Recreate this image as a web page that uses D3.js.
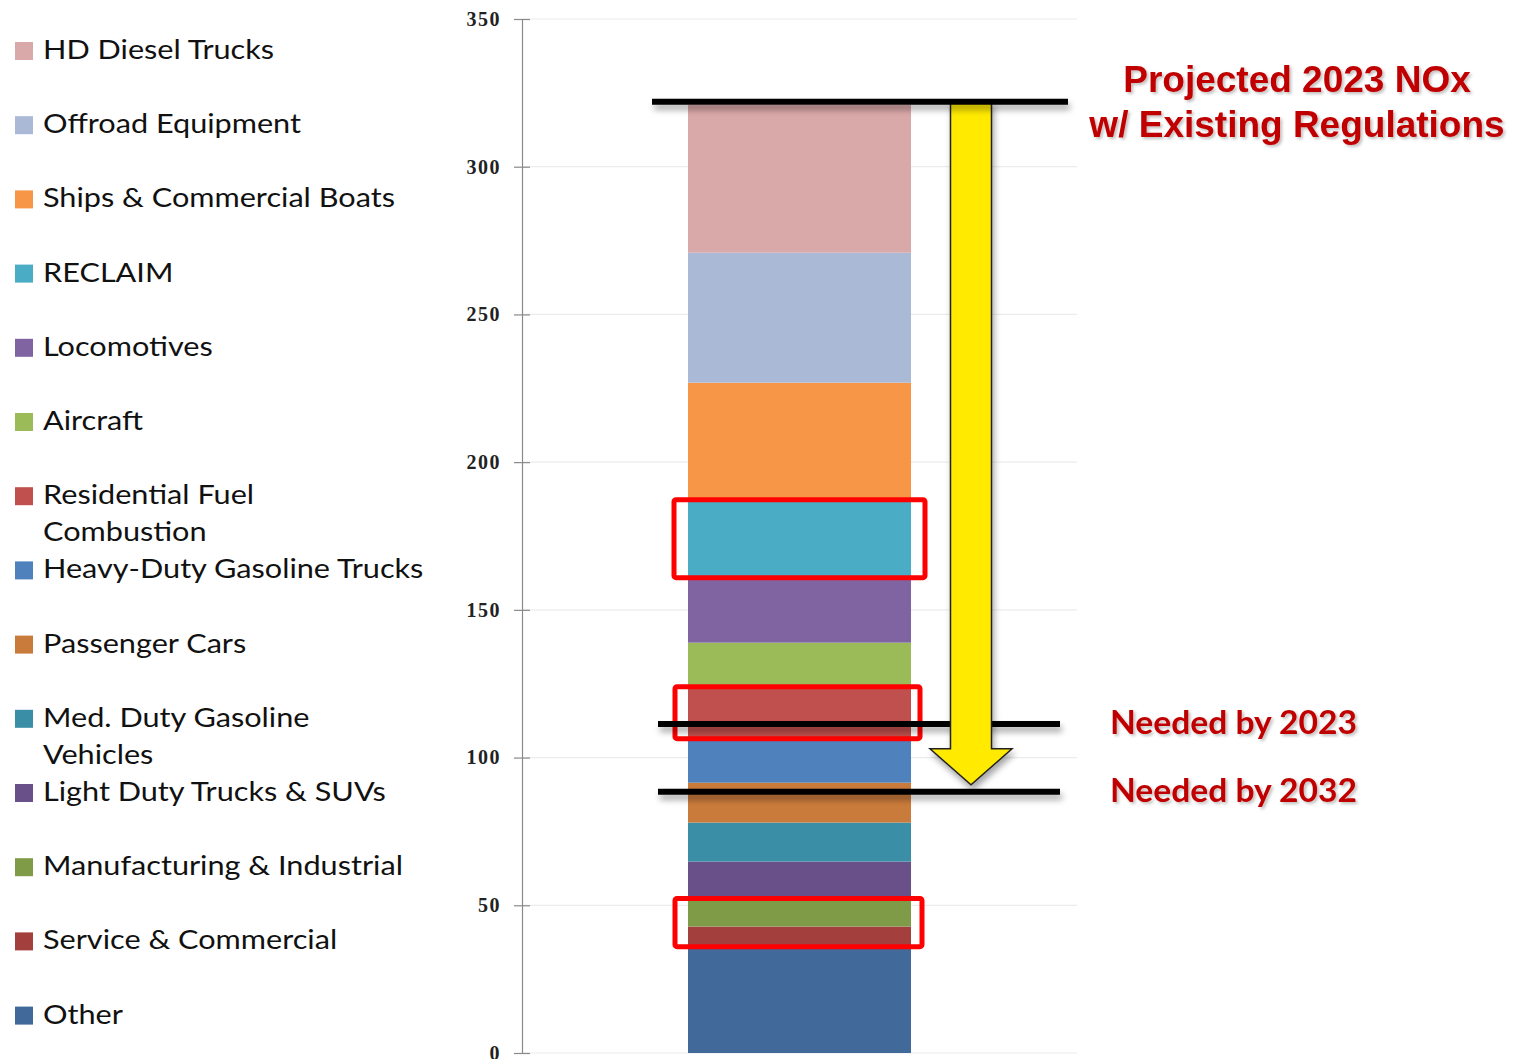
<!DOCTYPE html>
<html>
<head>
<meta charset="utf-8">
<script src="https://cdnjs.cloudflare.com/ajax/libs/d3/7.8.5/d3.min.js"></script>
<style>
  body { margin: 0; background: #ffffff; }
  svg { display: block; }
</style>
</head>
<body>
<script>
//Stacked NOx inventory bar for 2023 with reduction targets

//Declares Global variables
var W = 1523;
var H = 1059;

//Categories, bottom of the stack first
var categories = ["Other", "Service & Commercial", "Manufacturing & Industrial",
  "Light Duty Trucks & SUVs", "Med. Duty Gasoline Vehicles", "Passenger Cars",
  "Heavy-Duty Gasoline Trucks", "Residential Fuel Combustion", "Aircraft",
  "Locomotives", "RECLAIM", "Ships & Commercial Boats", "Offroad Equipment",
  "HD Diesel Trucks"];
var values = [36, 6.8, 9.5, 12.5, 13.2, 13.5, 14.9, 17.6, 14.9, 22, 26.4, 39.6, 44, 50.1];
var colors = ["#41699a", "#a3403d", "#809b48", "#6a5088", "#3a8fa6", "#c97b3b",
  "#4f81bd", "#c0504d", "#9bbb59", "#8064a2", "#4bacc6", "#f79646", "#aab9d6",
  "#d9a8a8"];

//Legend order and wrapped labels (top to bottom)
var legendLabels = [["HD Diesel Trucks"], ["Offroad Equipment"], ["Ships & Commercial Boats"],
  ["RECLAIM"], ["Locomotives"], ["Aircraft"], ["Residential Fuel", "Combustion"],
  ["Heavy-Duty Gasoline Trucks"], ["Passenger Cars"], ["Med. Duty Gasoline", "Vehicles"],
  ["Light Duty Trucks & SUVs"], ["Manufacturing & Industrial"], ["Service & Commercial"],
  ["Other"]];

var yTicks = [0, 50, 100, 150, 200, 250, 300, 350];
var barLabel = ["2023"];
var needed2023 = 111.4;
var needed2032 = 88.4;
var highlighted = [["RECLAIM"], ["Residential Fuel Combustion"],
  ["Manufacturing & Industrial", "Service & Commercial"]];

function main() {
  var svg = d3.select("body").append("svg")
    .attr("width", W)
    .attr("height", H);
  makeFilters(svg);

  var yScale = d3.scaleLinear().domain([0, 350]).range([1053, 19]);
  var xScale = d3.scaleBand().domain(barLabel).range([522, 1077])
    .paddingInner(0.4267).paddingOuter(0.4267);

  //Builds one row table for the stack
  var row = { name: barLabel[0] };
  categories.forEach(function(c, i) { row[c] = values[i]; });
  var series = d3.stack().keys(categories)([row]);

  drawGrid(svg, yScale);
  drawBars(svg, series, xScale, yScale);
  drawAxis(svg, yScale);
  drawBoxes(svg, series, xScale, yScale);
  drawTargets(svg, series, xScale, yScale);
  drawLegend(svg);
}

function makeFilters(svg) {
  //Soft shadows used under lines, arrow and red text
  var defs = svg.append("defs");
  defs.append("filter").attr("id", "shadow")
    .attr("filterUnits", "userSpaceOnUse")
    .attr("x", 0).attr("y", 0).attr("width", W).attr("height", H)
    .append("feDropShadow")
    .attr("dx", 2).attr("dy", 5).attr("stdDeviation", 3)
    .attr("flood-color", "#000").attr("flood-opacity", 0.35);
  defs.append("filter").attr("id", "tshadow")
    .append("feDropShadow")
    .attr("dx", 2).attr("dy", 2).attr("stdDeviation", 1.5)
    .attr("flood-color", "#000").attr("flood-opacity", 0.25);
}

function drawGrid(svg, yScale) {
  //Very faint horizontal gridlines
  svg.append("g").selectAll("line")
    .data(yTicks)
    .enter().append("line")
    .attr("x1", 522).attr("x2", 1077)
    .attr("y1", function(d) { return yScale(d); })
    .attr("y2", function(d) { return yScale(d); })
    .attr("stroke", "#ececec")
    .attr("stroke-width", 1.2);
}

function drawAxis(svg, yScale) {
  var axis = d3.axisLeft(yScale).tickValues(yTicks).tickSize(8).tickPadding(13);
  var g = svg.append("g")
    .attr("transform", "translate(522,0)")
    .call(axis);
  g.select(".domain").attr("stroke", "#8a8a8a").attr("stroke-width", 1.2);
  g.selectAll(".tick line").attr("x1", 8).attr("stroke", "#8a8a8a").attr("stroke-width", 1.2);
  g.selectAll(".tick text")
    .attr("font-family", "'Liberation Serif', serif")
    .attr("font-size", 20)
    .attr("font-weight", "bold")
    .attr("letter-spacing", 1.5)
    .attr("fill", "#222");
}

function drawBars(svg, series, xScale, yScale) {
  //One rect per stacked category
  svg.append("g").selectAll("rect")
    .data(series)
    .enter().append("rect")
    .attr("x", xScale(barLabel[0]))
    .attr("width", xScale.bandwidth())
    .attr("y", function(d) { return yScale(d[0][1]); })
    .attr("height", function(d) { return yScale(d[0][0]) - yScale(d[0][1]); })
    .attr("fill", function(d, i) { return colors[i]; });
}

function drawTargets(svg, series, xScale, yScale) {
  var total = series[series.length - 1][0][1];
  var yTop = yScale(total) - 3;

  //Target lines sit under the arrow
  svg.append("g").selectAll("line")
    .data([needed2023, needed2032])
    .enter().append("line")
    .attr("x1", 658).attr("x2", 1060)
    .attr("y1", function(d) { return yScale(d); })
    .attr("y2", function(d) { return yScale(d); })
    .attr("stroke", "#000")
    .attr("stroke-width", 6)
    .attr("filter", "url(#shadow)");

  //Yellow arrow from the projection down to the 2032 target
  var cx = 971, sw = 20.5, hw = 41;
  var yNeck = yScale(needed2032) - 43;
  var yTip = yScale(needed2032) - 7;
  var pts = [[cx - sw, yTop], [cx + sw, yTop], [cx + sw, yNeck], [cx + hw, yNeck],
    [cx, yTip], [cx - hw, yNeck], [cx - sw, yNeck]];
  svg.append("path")
    .attr("d", d3.line()(pts) + "Z")
    .attr("fill", "#ffea00")
    .attr("stroke", "#222")
    .attr("stroke-width", 1.5)
    .attr("filter", "url(#shadow)");

  //Projected total line on top
  svg.append("line")
    .attr("x1", 652).attr("x2", 1068)
    .attr("y1", yTop).attr("y2", yTop)
    .attr("stroke", "#000")
    .attr("stroke-width", 6)
    .attr("filter", "url(#shadow)");

  //Red annotation texts
  var title = svg.append("text")
    .attr("text-anchor", "middle")
    .attr("font-family", "'Liberation Sans', Arial, sans-serif")
    .attr("font-weight", "bold")
    .attr("font-size", 37)
    .attr("fill", "#c00000")
    .attr("filter", "url(#tshadow)");
  title.append("tspan").attr("x", 1297).attr("y", 92).text("Projected 2023 NOx");
  title.append("tspan").attr("x", 1297).attr("y", 137).text("w/ Existing Regulations");

  svg.append("g").selectAll("text")
    .data([[needed2023, "Needed by 2023"], [needed2032, "Needed by 2032"]])
    .enter().append("text")
    .attr("transform", function(d) {
      return "translate(1110," + (yScale(d[0]) + 10) + ") scale(1.05,1)";
    })
    .attr("font-family", "Lato, sans-serif")
    .attr("font-weight", "bold")
    .attr("font-size", 32)
    .attr("fill", "#c00000")
    .attr("filter", "url(#tshadow)")
    .text(function(d) { return d[1]; });
}

function drawBoxes(svg, series, xScale, yScale) {
  //Red outlines around highlighted stack pieces
  var bx = [[674, 925], [675, 920], [675, 922]];
  svg.append("g").selectAll("rect")
    .data(highlighted)
    .enter().append("rect")
    .attr("x", function(d, i) { return bx[i][0]; })
    .attr("width", function(d, i) { return bx[i][1] - bx[i][0]; })
    .attr("y", function(d) {
      var top = d3.max(d, function(k) { return series[categories.indexOf(k)][0][1]; });
      return yScale(top);
    })
    .attr("height", function(d) {
      var top = d3.max(d, function(k) { return series[categories.indexOf(k)][0][1]; });
      var bot = d3.min(d, function(k) { return series[categories.indexOf(k)][0][0]; });
      return yScale(bot) - yScale(top);
    })
    .attr("rx", 2)
    .attr("fill", "none")
    .attr("stroke", "#ff0000")
    .attr("stroke-width", 5);
}

function drawLegend(svg) {
  var items = svg.append("g").selectAll("g")
    .data(legendLabels)
    .enter().append("g")
    .attr("transform", function(d, i) { return "translate(15," + (50 + i * 74.2) + ")"; });

  items.append("rect")
    .attr("x", 0).attr("y", -8)
    .attr("width", 18).attr("height", 18)
    .attr("fill", function(d, i) { return colors[colors.length - 1 - i]; });

  //Text is a little stretched sideways in the original slide
  items.append("text")
    .attr("transform", "translate(28,0) scale(1.135,1)")
    .attr("font-family", "Lato, sans-serif")
    .attr("font-size", 27)
    .attr("fill", "#111")
    .selectAll("tspan")
    .data(function(d) { return d; })
    .enter().append("tspan")
    .attr("x", 0)
    .attr("y", function(d, j) { return 9 + j * 37; })
    .text(function(d) { return d; });
}

main();
</script>
</body>
</html>
